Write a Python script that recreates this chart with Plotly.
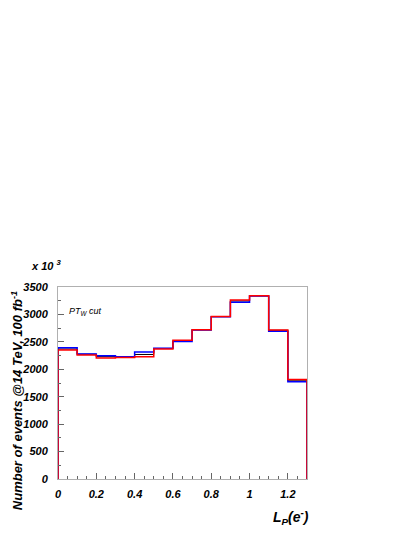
import plotly.graph_objects as go

# ---------------------------------------------------------------- data

bin_edges = [0.0, 0.1, 0.2, 0.3, 0.4, 0.5, 0.6, 0.7, 0.8, 0.9, 1.0, 1.1, 1.2, 1.3]
counts_black = [2370, 2275, 2230, 2222, 2270, 2380, 2520, 2720, 2960, 3245, 3340, 2710, 1790]
counts_blue = [2392, 2280, 2246, 2228, 2313, 2385, 2505, 2718, 2958, 3224, 3338, 2695, 1773]
counts_red = [2350, 2262, 2205, 2216, 2228, 2372, 2530, 2722, 2962, 3265, 3342, 2718, 1814]

y_ticks = [0, 500, 1000, 1500, 2000, 2500, 3000, 3500]
x_ticks = [0, 0.2, 0.4, 0.6, 0.8, 1.0, 1.2]
x_ticklabels = ["0", "0.2", "0.4", "0.6", "0.8", "1", "1.2"]

FONT = "Liberation Sans, Arial, sans-serif"


def step_xy(edges, counts):
    """Outline of a histogram drawn with an hv line, closed down to zero."""
    xs = [edges[0]] + list(edges) + [edges[-1]]
    ys = [0] + list(counts) + [counts[-1], 0]
    return xs, ys


fig = go.Figure()
for counts, color, width in [
    (counts_black, "#000000", 1.0),
    (counts_blue, "#0000ff", 1.5),
    (counts_red, "#ff0000", 1.5),
]:
    xs, ys = step_xy(bin_edges, counts)
    fig.add_trace(
        go.Scatter(
            x=xs, y=ys, mode="lines", line=dict(color=color, width=width, shape="hv"),
            showlegend=False, hoverinfo="skip",
        )
    )

tickfont = dict(family=FONT, size=11, color="#000000", weight="bold", style="italic")

fig.update_xaxes(
    range=[0, 1.3], tickvals=x_ticks, ticktext=x_ticklabels,
    ticks="inside", ticklen=6, tickcolor="#666666", tickwidth=1,
    minor=dict(dtick=0.05, ticks="inside", ticklen=3, tickcolor="#666666"),
    showline=True, linecolor="#b0b0b0", linewidth=1, mirror=True,
    showgrid=False, zeroline=False, tickfont=tickfont, ticklabelstandoff=5,
)
fig.update_yaxes(
    range=[0, 3500], tickvals=y_ticks,
    ticks="inside", ticklen=6, tickcolor="#666666", tickwidth=1,
    minor=dict(dtick=250, ticks="inside", ticklen=3, tickcolor="#666666"),
    showline=True, linecolor="#b0b0b0", linewidth=1, mirror=True,
    showgrid=False, zeroline=False, tickfont=tickfont, ticklabelstandoff=7,
)

ann_font = dict(family=FONT, color="#000000", weight="bold", style="italic")
fig.add_annotation(
    text="Number of events @14 TeV, 100 fb<sup>-1</sup>", textangle=-90,
    x=-0.165, y=0.41, xref="paper", yref="paper", showarrow=False,
    xanchor="center", yanchor="middle",
    font=dict(size=13, **ann_font),
)
fig.add_annotation(
    text="x 10 <sup>3</sup>", x=-0.115, y=1.115, xref="paper", yref="paper",
    xanchor="left", yanchor="middle", showarrow=False, font=dict(size=11, **ann_font),
)
fig.add_annotation(
    text="L<sub>P</sub>(e<sup>-</sup>)", x=0.936, y=-0.198, xref="paper", yref="paper",
    xanchor="center", yanchor="middle",
    showarrow=False, font=dict(size=14, **ann_font),
)
fig.add_annotation(
    text="PT<sub>W</sub> cut", x=0.035, y=0.87, xref="paper", yref="paper",
    xanchor="left", yanchor="middle", showarrow=False,
    font=dict(family=FONT, size=9, color="#000000", style="italic"),
)

# the page adds an 8px body margin, so the figure is shrunk by that much
fig.update_layout(
    width=407, height=529,
    margin=dict(l=50, r=108, t=279, b=58),
    paper_bgcolor="#ffffff", plot_bgcolor="#ffffff",
    showlegend=False,
)

fig.write_html("out.html")
